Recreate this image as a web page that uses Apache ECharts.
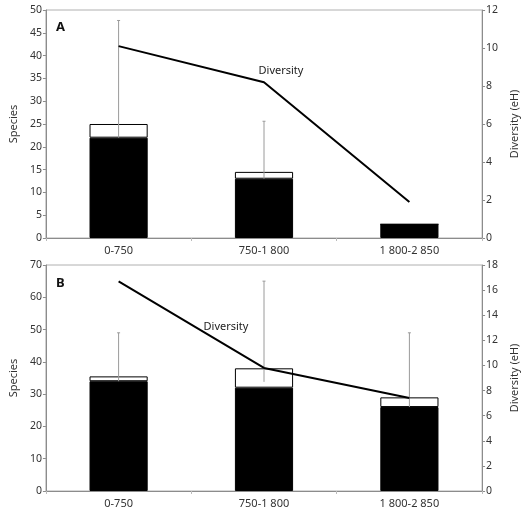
<!DOCTYPE html>
<html lang="en">
<head>
<meta charset="UTF-8">
<title>species diversity</title>
<style type="text/css">
body,html{width:100%;height:100%;margin:0;padding:0;background:#fff;}
#chart{width:528px;height:516px;}
</style>
</head>
<body>
<div id="chart"></div>
<script type="text/javascript" src="https://cdn.jsdelivr.net/npm/echarts@6/dist/echarts.min.js"></script>
<script type="text/javascript">
var categories = ['0-750', '750-1 800', '1 800-2 850'];

// panel A
var speciesA = [22, 13, 3];          // black part
var totalA = [25, 14.5, 3];          // top of white part
var errLowA = [22, 13, null];
var errHighA = [47.7, 25.6, null];
var diversityA = [10.1, 8.2, 1.9];

// panel B
var speciesB = [34, 32, 26];
var totalB = [35.5, 38, 29];
var errLowB = [34, 33.8, 26];
var errHighB = [49, 65, 49];
var diversityB = [16.7, 9.8, 7.4];

var font = 'Noto Sans';
var axisGray = '#8c8c8c';

function diff(a, b) {
	return a.map(function (v, i) { return +(v - b[i]).toFixed(2); });
}
function errData(lo, hi) {
	var out = [];
	for (var i = 0; i < lo.length; i++) {
		if (lo[i] != null) out.push([i, lo[i], hi[i]]);
	}
	return out;
}
function renderErr(params, api) {
	var p1 = api.coord([api.value(0), api.value(1)]);
	var p2 = api.coord([api.value(0), api.value(2)]);
	return {
		type: 'group',
		children: [{
			type: 'line',
			shape: {x1: p1[0], y1: p1[1], x2: p2[0], y2: p2[1]},
			style: {stroke: '#9a9a9a', lineWidth: 1}
		}, {
			type: 'line',
			shape: {x1: p2[0] - 1.5, y1: p2[1], x2: p2[0] + 1.5, y2: p2[1]},
			style: {stroke: '#9a9a9a', lineWidth: 1}
		}]
	};
}

function xAxisFor(idx) {
	return {
		type: 'category', gridIndex: idx, data: categories,
		axisLine: {lineStyle: {color: axisGray}},
		axisTick: {show: true, alignWithLabel: false, length: 3, lineStyle: {color: '#bbb'}},
		axisLabel: {color: '#333', fontSize: 11, fontFamily: font, margin: 7}
	};
}
function yAxisFor(idx, pos, max, interval, name, gap) {
	return {
		type: 'value', gridIndex: idx, position: pos, min: 0, max: max, interval: interval,
		name: name, nameLocation: 'middle', nameGap: gap,
		nameTextStyle: {color: '#333', fontSize: 11, fontFamily: font},
		axisLine: {show: true, lineStyle: {color: axisGray}},
		axisTick: {show: true, length: 3, lineStyle: {color: axisGray}},
		axisLabel: {color: '#333', fontSize: 10.5, fontFamily: font, margin: 4},
		splitLine: {show: false}
	};
}

var option = {
	backgroundColor: '#fff',
	animation: false,
	title: [
		{text: 'A', left: 51, top: 16, textStyle: {fontSize: 13, fontWeight: 'bold', color: '#111', fontFamily: font}},
		{text: 'B', left: 51, top: 272, textStyle: {fontSize: 13, fontWeight: 'bold', color: '#111', fontFamily: font}}
	],
	grid: [
		{left: 37, right: 39, top: 10, height: 228, show: true, borderColor: '#b0b0b0', borderWidth: 1},
		{left: 37, right: 40, top: 265, height: 226, show: true, borderColor: '#b0b0b0', borderWidth: 1}
	],
	xAxis: [xAxisFor(0), xAxisFor(1)],
	yAxis: [
		yAxisFor(0, 'left', 50, 5, 'Species', 22),
		yAxisFor(0, 'right', 12, 2, 'Diversity (eH)', 20),
		yAxisFor(1, 'left', 70, 10, 'Species', 22),
		yAxisFor(1, 'right', 18, 2, 'Diversity (eH)', 20)
	],
	series: [
		{type: 'bar', xAxisIndex: 0, yAxisIndex: 0, stack: 'a', barWidth: '40%', data: speciesA,
			itemStyle: {color: '#000', borderColor: '#000', borderWidth: 1}},
		{type: 'bar', xAxisIndex: 0, yAxisIndex: 0, stack: 'a', barWidth: '40%', data: diff(totalA, speciesA),
			itemStyle: {color: '#fff', borderColor: '#000', borderWidth: 1}},
		{type: 'custom', xAxisIndex: 0, yAxisIndex: 0, renderItem: renderErr, data: errData(errLowA, errHighA), z: 5},
		{type: 'line', xAxisIndex: 0, yAxisIndex: 1, data: diversityA, symbol: 'none', z: 6,
			lineStyle: {color: '#000', width: 2},
			label: {show: false},
			markPoint: {symbol: 'rect', symbolSize: 0, data: [{coord: [1, diversityA[1]],
				label: {show: true, formatter: 'Diversity', offset: [17, -11], color: '#222', fontSize: 11, fontFamily: font}}]}},

		{type: 'bar', xAxisIndex: 1, yAxisIndex: 2, stack: 'b', barWidth: '40%', data: speciesB,
			itemStyle: {color: '#000', borderColor: '#000', borderWidth: 1}},
		{type: 'bar', xAxisIndex: 1, yAxisIndex: 2, stack: 'b', barWidth: '40%', data: diff(totalB, speciesB),
			itemStyle: {color: '#fff', borderColor: '#000', borderWidth: 1}},
		{type: 'custom', xAxisIndex: 1, yAxisIndex: 2, renderItem: renderErr, data: errData(errLowB, errHighB), z: 5},
		{type: 'line', xAxisIndex: 1, yAxisIndex: 3, data: diversityB, symbol: 'none', z: 6,
			lineStyle: {color: '#000', width: 2},
			markPoint: {symbol: 'rect', symbolSize: 0, data: [{coord: [1, diversityB[1]],
				label: {show: true, formatter: 'Diversity', offset: [-38, -41], color: '#222', fontSize: 11, fontFamily: font}}]}}
	]
};

var chart = echarts.init(document.getElementById('chart'));
chart.setOption(option);
</script>
</body>
</html>
